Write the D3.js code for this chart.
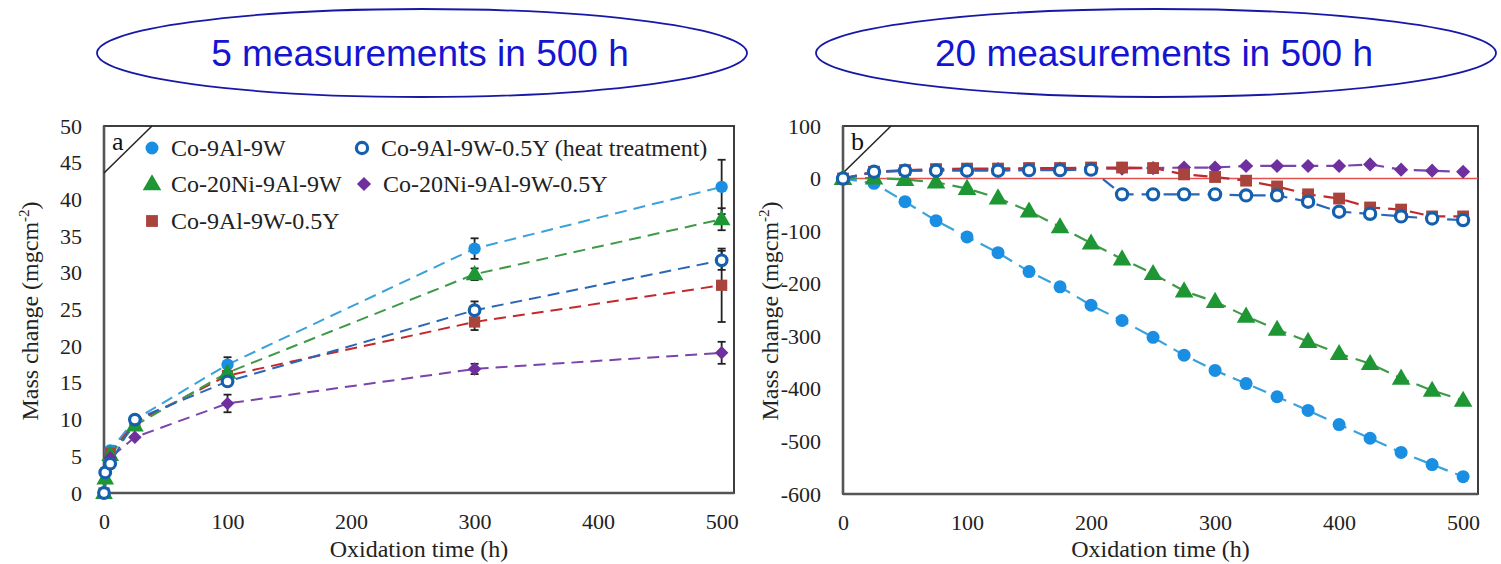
<!DOCTYPE html>
<html><head><meta charset="utf-8">
<script src="https://cdn.jsdelivr.net/npm/d3@7"></script>
<style>body{margin:0;background:#fff;} svg{display:block;}</style>
</head><body>
<svg id="c" width="1501" height="564"></svg>
<script>
// ---------- DATA ----------
const titles = ["5 measurements in 500 h", "20 measurements in 500 h"];
const seriesNames = ["Co-9Al-9W", "Co-9Al-9W-0.5Y (heat treatment)", "Co-20Ni-9Al-9W", "Co-20Ni-9Al-9W-0.5Y", "Co-9Al-9W-0.5Y"];
const seriesKeys = ["base", "heat", "ni", "niY", "y"];

// panel a
const aTicksX = [0, 100, 200, 300, 400, 500];
const aTicksY = [0, 5, 10, 15, 20, 25, 30, 35, 40, 45, 50];
const aTimeBase = [0, 5, 25, 100, 300, 500];
const aBase = [0, 5.8, 10.0, 17.5, 33.3, 41.7];
const aBaseErr = [0, 0.3, 0.3, 1.0, 1.4, 3.7];
const aTimeHeat = [0, 1, 5, 25, 100, 300, 500];
const aHeat = [0, 2.8, 4.0, 10.0, 15.2, 24.9, 31.7];
const aHeatErr = [0, 0, 0.3, 0.3, 0.6, 1.2, 1.3];
const aTimeNi = [0, 1, 5, 25, 100, 300, 500];
const aNi = [0, 2.0, 5.2, 9.2, 16.4, 29.8, 37.3];
const aNiErr = [0, 0, 0.3, 0.3, 0.5, 0.8, 1.5];
const aTimeY = [0, 5, 25, 100, 300, 500];
const aY = [0, 5.4, 9.6, 16.0, 23.3, 28.3];
const aYErr = [0, 0.3, 0.3, 0.5, 1.1, 5.0];
const aTimeNiY = [0, 5, 25, 100, 300, 500];
const aNiY = [0, 4.8, 7.6, 12.2, 16.9, 19.1];
const aNiYErr = [0, 0.3, 0.3, 1.2, 0.7, 1.5];

// panel b
const bTicksX = [0, 100, 200, 300, 400, 500];
const bTicksY = [100, 0, -100, -200, -300, -400, -500, -600];
const bTime = [0, 25, 50, 75, 100, 125, 150, 175, 200, 225, 250, 275, 300, 325, 350, 375, 400, 425, 450, 475, 500];
const bBase = [0, -9, -44, -80, -111, -141, -177, -206, -241, -270, -302, -336, -365, -390, -415, -441, -468, -494, -521, -544, -567];
const bNi = [0, 1, -2, -7, -19, -37, -62, -92, -123, -153, -181, -214, -234, -262, -287, -310, -333, -352, -380, -403, -422];
const bHeat = [0, 13, 15, 15, 15, 15, 16, 16, 17, -30, -30, -30, -30, -32, -32, -44, -63, -67, -72, -76, -79];
const bY = [0, 13, 16, 18, 19, 19, 20, 20, 21, 21, 20, 8, 3, -4, -15, -30, -38, -55, -59, -72, -72];
const bNiY = [0, 12, 15, 16, 17, 18, 18, 19, 19, 19, 20, 21, 21, 24, 24, 24, 24, 27, 17, 15, 13];

// ---------- STYLE ----------
const style = {
  base: {fill: "#1a8ee3", stroke: "#1a8ee3", line: "#3aa2da", sym: "circle"},
  heat: {fill: "#ffffff", stroke: "#1560ae", line: "#2a66b6", sym: "open"},
  ni:   {fill: "#1e9634", stroke: "#1e9634", line: "#3f9a48", sym: "triangle"},
  y:    {fill: "#a8443c", stroke: "#a8443c", line: "#c4282c", sym: "square"},
  niY:  {fill: "#6f2f9f", stroke: "#6f2f9f", line: "#7a44aa", sym: "diamond"}
};
const serif = "Liberation Serif, Times New Roman, serif";
const svg = d3.select("#c");

function marker(g, key, x, y, s) {
  const st = style[key];
  s = s || 1;
  if (st.sym === "circle") {
    g.append("circle").attr("cx", x).attr("cy", y).attr("r", 6.5 * s).attr("fill", st.fill);
  } else if (st.sym === "open") {
    g.append("circle").attr("cx", x).attr("cy", y).attr("r", 5.6 * s).attr("fill", "#fff")
      .attr("stroke", st.stroke).attr("stroke-width", 3.2);
  } else if (st.sym === "triangle") {
    g.append("path").attr("d", d3.symbol(d3.symbolTriangle, 150 * s * s)())
      .attr("transform", `translate(${x},${y + 1})`).attr("fill", st.fill);
  } else if (st.sym === "square") {
    g.append("path").attr("d", d3.symbol(d3.symbolSquare, 140 * s * s)())
      .attr("transform", `translate(${x},${y})`).attr("fill", st.fill);
  } else if (st.sym === "diamond") {
    g.append("path").attr("d", d3.symbol(d3.symbolSquare, 100 * s * s)())
      .attr("transform", `translate(${x},${y}) rotate(45)`).attr("fill", st.fill);
  }
}

// ---------- TITLES ----------
const ellipses = [{cx: 422, rx: 325}, {cx: 1156, rx: 340}];
titles.forEach((t, i) => {
  svg.append("ellipse").attr("cx", ellipses[i].cx).attr("cy", 53).attr("rx", ellipses[i].rx).attr("ry", 44)
    .attr("fill", "none").attr("stroke", "#1818a8").attr("stroke-width", 1.8);
  svg.append("text").attr("x", ellipses[i].cx - 2).attr("y", 66).attr("text-anchor", "middle")
    .attr("font-family", "Liberation Sans, Arial, sans-serif").attr("font-size", 37)
    .attr("fill", "#1414d2").text(t);
});

// ---------- PANEL ----------
function panel(opts) {
  const g = svg.append("g");
  const x = d3.scaleLinear().domain(opts.xDomain).range([opts.left, opts.right]);
  const y = d3.scaleLinear().domain(opts.yDomain).range([opts.bottom, opts.top]);

  const ax = g.append("g").attr("transform", `translate(0,${opts.bottom})`)
    .call(d3.axisBottom(x).tickValues(opts.ticksX).tickSize(0).tickPadding(20).tickFormat(d => String(d)));
  ax.attr("font-family", serif).attr("font-size", 22);
  ax.select(".domain").remove();
  ax.selectAll("text").attr("fill", "#222");
  const ay = g.append("g").attr("transform", `translate(${opts.left},0)`)
    .call(d3.axisLeft(y).tickValues(opts.ticksY).tickSize(0).tickPadding(22).tickFormat(d => String(d)));
  ay.attr("font-family", serif).attr("font-size", 22);
  ay.select(".domain").remove();
  ay.selectAll("text").attr("fill", "#222");

  // frame
  g.append("rect").attr("x", opts.left).attr("y", opts.top)
    .attr("width", opts.right - opts.left).attr("height", opts.bottom - opts.top)
    .attr("fill", "none").attr("stroke", "#2a2a2a").attr("stroke-width", 1.8);
  g.append("line").attr("x1", opts.left).attr("x2", opts.left).attr("y1", opts.top).attr("y2", opts.bottom)
    .attr("stroke", "#555").attr("stroke-width", 2.6);
  g.append("line").attr("x1", opts.left).attr("x2", opts.right).attr("y1", opts.bottom).attr("y2", opts.bottom)
    .attr("stroke", "#555").attr("stroke-width", 2.6);

  // corner label
  g.append("line").attr("x1", opts.left).attr("y1", opts.top + 47).attr("x2", opts.left + 48).attr("y2", opts.top)
    .attr("stroke", "#222").attr("stroke-width", 1.5);
  g.append("text").attr("x", opts.left + 8).attr("y", opts.top + 24).attr("font-family", serif)
    .attr("font-size", 26).attr("fill", "#111").text(opts.letter);

  // axis titles
  g.append("text").attr("x", (opts.left + opts.right) / 2).attr("y", 557).attr("text-anchor", "middle")
    .attr("font-family", serif).attr("font-size", 24).attr("fill", "#222").text("Oxidation time (h)");
  const yt = g.append("text").attr("transform", `translate(${opts.yTitleX},311) rotate(-90)`)
    .attr("text-anchor", "middle").attr("font-family", serif).attr("font-size", 24).attr("fill", "#222");
  yt.append("tspan").text("Mass change (mgcm");
  yt.append("tspan").attr("font-size", 15).attr("dy", -9).text("-2");
  yt.append("tspan").attr("dy", 9).text(")");

  return {g, x, y};
}

// Panel a
const pa = panel({xDomain: [0, 510], yDomain: [0, 50], left: 104, right: 734, top: 126, bottom: 493,
  ticksX: aTicksX, ticksY: aTicksY, letter: "a", yTitleX: 38});
const aSeries = [
  {key: "base", t: aTimeBase, v: aBase, e: aBaseErr},
  {key: "y", t: aTimeY, v: aY, e: aYErr},
  {key: "ni", t: aTimeNi, v: aNi, e: aNiErr},
  {key: "niY", t: aTimeNiY, v: aNiY, e: aNiYErr},
  {key: "heat", t: aTimeHeat, v: aHeat, e: aHeatErr}
];
const lineGen = (sc) => d3.line().x(d => sc.x(d[0])).y(d => sc.y(d[1]));
aSeries.forEach(s => {
  const pts = s.t.map((t, i) => [t, s.v[i]]);
  pa.g.append("path").attr("d", lineGen(pa)(pts)).attr("fill", "none")
    .attr("stroke", style[s.key].line).attr("stroke-width", 2).attr("stroke-dasharray", "12,7");
});
aSeries.forEach(s => {
  s.t.forEach((t, i) => {
    if (s.e[i] > 0.6) {
      const xx = pa.x(t), y1 = pa.y(s.v[i] - s.e[i]), y2 = pa.y(s.v[i] + s.e[i]);
      pa.g.append("line").attr("x1", xx).attr("x2", xx).attr("y1", y1).attr("y2", y2).attr("stroke", "#222").attr("stroke-width", 1.8);
      [y1, y2].forEach(yy => pa.g.append("line").attr("x1", xx - 4).attr("x2", xx + 4).attr("y1", yy).attr("y2", yy)
        .attr("stroke", "#222").attr("stroke-width", 1.8));
    }
  });
});
aSeries.forEach(s => {
  s.t.forEach((t, i) => marker(pa.g, s.key, pa.x(t), pa.y(s.v[i]), 0.95));
});

// legend panel a
const legendItems = [
  {key: "base", x: 152, y: 148},
  {key: "heat", x: 362, y: 148},
  {key: "ni", x: 152, y: 184},
  {key: "niY", x: 364, y: 184},
  {key: "y", x: 152, y: 221}
];
legendItems.forEach(li => {
  marker(pa.g, li.key, li.x, li.y, 1);
  pa.g.append("text").attr("x", li.x + 19).attr("y", li.y + 8).attr("font-family", serif).attr("font-size", 24)
    .attr("fill", "#222").text(seriesNames[seriesKeys.indexOf(li.key)]);
});

// Panel b
const pb = panel({xDomain: [0, 512], yDomain: [-600, 100], left: 843, right: 1478, top: 126, bottom: 494,
  ticksX: bTicksX, ticksY: bTicksY, letter: "b", yTitleX: 778});
pb.g.append("line").attr("x1", pb.x(0)).attr("x2", pb.x(512)).attr("y1", pb.y(0)).attr("y2", pb.y(0))
  .attr("stroke", "#e4504e").attr("stroke-width", 1.6);
const bSeries = [
  {key: "base", v: bBase},
  {key: "ni", v: bNi},
  {key: "niY", v: bNiY},
  {key: "y", v: bY},
  {key: "heat", v: bHeat}
];
bSeries.forEach(s => {
  const pts = bTime.map((t, i) => [t, s.v[i]]);
  pb.g.append("path").attr("d", lineGen(pb)(pts)).attr("fill", "none")
    .attr("stroke", style[s.key].line).attr("stroke-width", 2.2).attr("stroke-dasharray", "14,8");
  bTime.forEach((t, i) => marker(pb.g, s.key, pb.x(t), pb.y(s.v[i]), 1));
});
</script>
</body></html>
